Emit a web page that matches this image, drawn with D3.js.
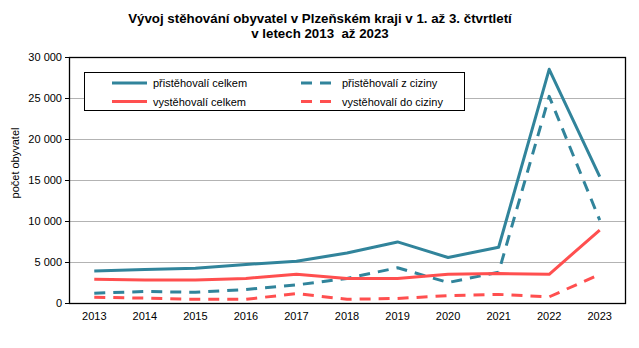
<!DOCTYPE html>
<html><head><meta charset="utf-8">
<script src="https://cdn.jsdelivr.net/npm/d3@7"></script>
<style>body{margin:0;background:#fff}svg{display:block}</style>
</head><body>
<script>
const years = ["2013","2014","2015","2016","2017","2018","2019","2020","2021","2022","2023"];
const prisCelkem = [3900,4100,4250,4700,5100,6100,7450,5550,6800,28500,15400];
const prisCiziny = [1200,1400,1300,1650,2200,3000,4300,2500,3750,25200,10100];
const vysCelkem  = [2900,2800,2800,3000,3500,3000,3000,3500,3600,3500,8900];
const vysCiziny  = [700,600,450,450,1150,450,550,900,1050,750,3500];
const yTicks = [0,5000,10000,15000,20000,25000,30000];
const seriesNames = ["přistěhovalí celkem","přistěhovalí z ciziny","vystěhovalí celkem","vystěhovalí do ciziny"];

const W=639,H=348;
const m={l:69,r:625,t:57,b:303};
const teal="#31849B", red="#FF4F4F";
const series=[
 {name:seriesNames[0],values:prisCelkem,color:teal,dash:null},
 {name:seriesNames[1],values:prisCiziny,color:teal,dash:"11,8"},
 {name:seriesNames[2],values:vysCelkem,color:red,dash:null},
 {name:seriesNames[3],values:vysCiziny,color:red,dash:"11,8"}
];
const svg=d3.select("body").append("svg").attr("width",W).attr("height",H);
const x=d3.scaleBand().domain(years).range([m.l,m.r]);
const y=d3.scaleLinear().domain([0,30000]).range([m.b,m.t]);
const fmt=v=>d3.format(",")(v).replace(/,/g," ");

// title
const title=svg.append("text").attr("text-anchor","middle").attr("font-family","'Liberation Sans Narrow','Arial Narrow',Arial,sans-serif")
 .attr("font-weight","bold").attr("font-size",13.3).attr("fill","#000").style("white-space","pre");
title.append("tspan").attr("x",320).attr("y",23).text("Vývoj stěhování obyvatel v Plzeňském kraji v 1. až 3. čtvrtletí");
title.append("tspan").attr("x",320).attr("y",38).text("v letech 2013  až 2023");

// gridlines
svg.append("g").selectAll("line").data(yTicks.filter(d=>d>0&&d<30000)).join("line")
 .attr("x1",m.l).attr("x2",m.r).attr("y1",d=>Math.round(y(d))+0.5).attr("y2",d=>Math.round(y(d))+0.5)
 .attr("stroke","#b3b3b3").attr("stroke-width",1);

// y axis
const ya=svg.append("g").attr("transform",`translate(${m.l},0)`)
 .call(d3.axisLeft(y).tickValues(yTicks).tickFormat(fmt).tickSize(4).tickPadding(3));
ya.select(".domain").remove();
ya.selectAll("line").attr("stroke","#000");
ya.selectAll("text").attr("font-family","Arial,'Liberation Sans',sans-serif").attr("font-size",11).attr("fill","#000");

// x axis labels
const xa=svg.append("g").attr("transform",`translate(0,${m.b})`)
 .call(d3.axisBottom(x).tickSize(0).tickPadding(9));
xa.select(".domain").remove();
xa.selectAll("text").attr("font-family","Arial,'Liberation Sans',sans-serif").attr("font-size",11).attr("fill","#000");

// frame
svg.append("rect").attr("x",m.l+0.5).attr("y",m.t+0.5).attr("width",m.r-m.l).attr("height",m.b-m.t)
 .attr("fill","none").attr("stroke","#000").attr("stroke-width",1.3);

// y title
svg.append("text").attr("transform","translate(19,163) rotate(-90)").attr("text-anchor","middle")
 .attr("font-family","Arial,'Liberation Sans',sans-serif").attr("font-size",11).text("počet obyvatel");

// lines
const line=d3.line().x((d,i)=>x(years[i])+x.bandwidth()/2).y(d=>y(d));
svg.append("g").selectAll("path").data(series).join("path")
 .attr("d",d=>line(d.values)).attr("fill","none").attr("stroke",d=>d.color)
 .attr("stroke-width",3).attr("stroke-dasharray",d=>d.dash).attr("stroke-linejoin","round");

// legend
const lg=svg.append("g");
lg.append("rect").attr("x",84.5).attr("y",72.5).attr("width",380).attr("height",38).attr("fill","#fff").attr("stroke","#000").attr("stroke-width",1);
const pos=[[112,83],[301,83],[112,101.5],[301,101.5]];
series.forEach((s,i)=>{
 const [lx,ly]=pos[i];
 lg.append("line").attr("x1",lx).attr("x2",lx+35).attr("y1",ly).attr("y2",ly).attr("stroke",s.color).attr("stroke-width",3).attr("stroke-dasharray",s.dash);
 lg.append("text").attr("x",lx+41).attr("y",ly+4).attr("font-family","Arial,'Liberation Sans',sans-serif").attr("font-size",11).text(s.name);
});
</script>
</body></html>
